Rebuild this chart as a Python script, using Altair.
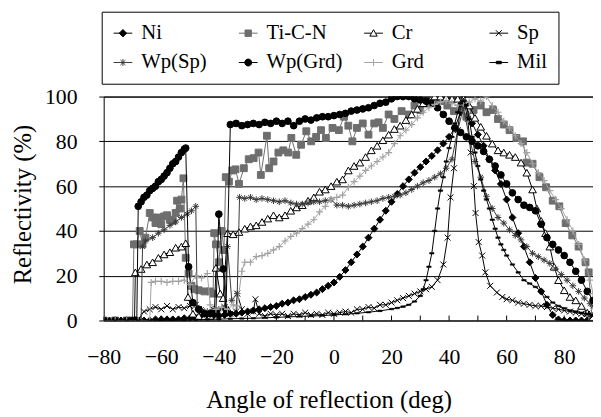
import altair as alt
import pandas as pd

series_names = ["Ni", "Ti-C-N", "Cr", "Sp", "Wp(Sp)", "Wp(Grd)", "Grd", "Mil"]

ni_x = [-80, -78, -76, -74, -72, -70, -68, -66, -64, -62,
        -60, -58, -56, -54, -52, -50, -48, -46, -44, -42,
        -40, -38, -36, -34, -32, -30, -28, -26, -24, -22,
        -20, -18, -16, -14, -12, -10, -8, -6, -4, -2,
        0, 2, 4, 6, 8, 10, 12, 14, 16, 18,
        20, 22, 24, 26, 28, 30, 32, 34, 36, 38,
        40, 42, 44, 46, 48, 50, 52, 54, 56, 58,
        60, 62, 64, 66, 68, 70, 72, 74, 76, 78,
        80, 82, 84, 86, 88, 90]
ni_y = [0, 0, 0, 0, 0, 0, 0, 0, 0, 0.5,
        0.5, 0.5, 0.5, 0.5, 1, 1, 1, 1.5, 1.5, 2,
        2, 2.5, 3, 3, 3.5, 4, 4.5, 5, 5.5, 6,
        6.5, 7.5, 8, 9, 9.5, 10.5, 11.5, 12.5, 14, 15.5,
        17, 19.5, 22.5, 26, 29.5, 33, 37, 41, 45, 49,
        53, 56.5, 60, 63, 66, 68.5, 71, 73.5, 76, 79,
        82, 86, 93, 96, 88, 83, 78, 72, 67, 61,
        54, 46, 39, 33, 26, 19, 13, 7, 2.5, 0.5,
        0, 0, 0, 0, 0, 0]

tin_x = [-80, -76, -72, -70, -69.5, -68.5, -67.5, -66.5, -65.5, -64,
         -63, -62, -61, -60, -59, -58, -57, -56, -55, -54.5,
         -53.5, -53, -52.3, -51.5, -50.5, -49.5, -48.5, -47, -45, -43,
         -42, -41.6, -41, -40, -39, -38.2, -37.6, -36.5, -35.3, -34.2,
         -33, -31.3, -29.6, -27.9, -26.2, -25.4, -23.3, -22.5, -21, -19.3,
         -17.6, -15.9, -14.8, -13.1, -11.4, -9.6, -7.9, -6.2, -4.5, -2.8,
         -0.5, 1.7, 3.5, 5, 6.4, 8, 10, 12, 14, 15.5,
         17, 19, 21, 23.5, 26, 28, 30, 32, 35, 37,
         39.4, 41.7, 44, 46, 48.5, 51, 53, 55.3, 57, 59,
         61, 63.4, 65.7, 66.9, 69, 71.4, 73.7, 76, 78.3, 80.5,
         82.8, 85, 87.4, 88.5, 89.6]
tin_y = [0, 0, 0, 0, 34, 34, 40, 34, 37, 48,
         46, 43.5, 46, 43, 46.5, 47, 45, 44.5, 48, 53.5,
         50, 54, 63.5, 28, 21, 15.5, 14, 13.5, 13, 13,
         12, 39, 34, 26, 40, 31.5, 64, 62, 67, 67.5,
         61, 68, 72, 72.5, 75, 65, 82.5, 68, 71, 75,
         76, 75, 81.5, 74, 78.5, 84.5, 80, 82, 85, 81.5,
         86, 85, 91, 87, 80, 86, 88, 83, 88, 88.5,
         86, 92, 90, 93.5, 92, 96, 94, 97, 99, 98,
         96, 93.5, 95, 91, 94, 96, 93, 94, 90, 87.5,
         85, 81.5, 80, 70.5, 70, 64, 59.5, 53.5, 51, 43.5,
         38, 33, 26, 21.5, 2]

cr_x = [-80, -76, -72, -70, -69.3, -69, -67, -65, -63, -61,
        -59, -57, -55, -53, -51.5, -50.7, -49, -47, -45, -43,
        -41.5, -41, -39.5, -38.5, -37, -35, -33, -31, -29, -27,
        -25, -23, -21, -19, -17, -15, -13, -11, -9, -7,
        -5, -3, -1, 1, 3, 5, 7, 9, 11, 13,
        15, 17, 19, 21, 23, 25, 27, 29, 31, 33,
        35, 37, 39, 41, 43, 45, 47, 49, 51, 53,
        55, 57, 59, 61, 63, 65, 67, 69, 70.5, 72,
        73.5, 75, 76.5, 78, 80, 82, 84, 86, 88, 90]
cr_y = [0, 0, 0, 0, 0, 21.5, 23, 25, 26, 28,
        29.5, 30.5, 32.5, 33, 34.5, 10.5, 3, 2, 1.5, 2,
        5, 23.5, 12, 10, 39, 38.5, 39.5, 41, 42, 42.5,
        44, 45.5, 47, 46, 47, 49, 50.5, 51.5, 53.5, 55,
        57.5, 58.5, 60, 62, 63, 67, 69, 70.5, 73, 76,
        78, 80.5, 83, 85.5, 87, 89.5, 92, 94.5, 97, 98,
        100, 100, 99.5, 99, 99, 99, 96, 90.5, 86.5, 82.5,
        79, 76, 75, 74, 73, 70.5, 66, 58.5, 50, 44.5,
        39, 33, 24, 18, 13.5, 10.5, 9, 6.5, 3.5, 1.5]

sp_x = [-80, -76, -72, -70, -68, -66, -64, -62, -60, -58,
        -56, -54, -52, -50, -48, -46, -44, -42, -40, -38,
        -36, -34, -33.6, -32, -30, -28, -27.3, -26, -24, -22,
        -20, -18, -16, -14, -12, -10, -8, -6, -4, -2,
        0, 2, 4, 6, 8, 10, 12, 14, 16, 18,
        20, 22, 24, 26, 28, 30, 32, 34, 36, 38,
        39.5, 40.5, 41.7, 43, 44, 45, 46.5, 47.5, 48.6, 49.2,
        50.3, 51.5, 52.6, 54.3, 56.6, 58.5, 60, 62, 64, 66,
        68, 70, 72, 74, 76, 78, 80, 82, 84, 86,
        88, 90]
sp_y = [0, 0, 0, 0, 0.5, 4, 5, 6, 5, 6.5,
        5, 6, 5.5, 6.5, 7, 4, 3, 5, 4, 6,
        3, 4, 12, 5, 3, 4, 9.5, 3, 2, 3,
        2.5, 3, 2, 3, 2.5, 3.5, 2.5, 3, 2.5, 3.5,
        3, 3.5, 4, 3.5, 5, 5, 6, 5.5, 7, 7,
        8, 9, 10, 11, 12, 13, 14, 15, 18, 25,
        37, 55, 68, 85, 96, 99, 90, 75, 60, 48,
        35, 29, 21.5, 15.5, 12.5, 10.5, 9.5, 9, 8, 7.5,
        7, 6.5, 6.5, 6, 5.5, 5, 4.5, 4, 3.5, 3,
        3, 2]

wps_x = [-80, -76, -72, -68, -67, -66.5, -65.5, -63, -61, -59,
         -57, -55, -53, -51, -49.5, -48, -47.5, -46, -44, -42,
         -40, -38, -37, -35.5, -33.6, -32.8, -31, -29, -27, -25,
         -23, -21, -19, -17, -15, -13, -11, -9, -7, -5,
         -3, -1, 1, 3, 5, 7, 9, 11, 13, 15,
         17, 19, 21, 23, 25, 27, 29, 31, 33, 35,
         37, 39, 41, 43, 45, 47, 49, 51, 53, 55,
         57, 59, 61, 63, 65, 67, 69, 71, 73, 75,
         77, 79, 81, 83, 85, 87, 89, 90]
wps_y = [0, 0, 0, 0, 0, 33, 35.5, 37, 39, 40.5,
         42.5, 44, 46, 47.5, 49, 51, 6, 5, 4, 5,
         5, 6, 33, 9, 12, 55, 54.5, 55, 54, 54.5,
         54, 53.5, 53, 53.5, 52.5, 52, 52, 52.5, 53, 53,
         53.5, 54, 51.5, 51.5, 51, 51.5, 52, 52.5, 53, 53.5,
         54.5, 55, 55.5, 56, 57, 58.5, 60, 61.5, 62.5, 64,
         65.5, 68, 72, 85, 95, 82, 71, 64, 55.5, 50,
         46, 43.5, 40.5, 38, 36, 33, 30, 28.5, 27, 25.5,
         23, 20.5, 18, 15.5, 13, 10, 7.5, 6.5]

wpg_x = [-80, -76, -72, -70, -68.5, -68, -67, -66, -65, -64,
         -63, -62, -61, -60, -59, -58, -57, -56, -55, -54,
         -53, -52, -51.5, -50.5, -49, -47, -45, -43, -41, -40,
         -38.5, -37.5, -36, -34, -32, -30, -28, -26, -24, -22,
         -20, -18, -16, -14, -12, -10, -8, -6, -4, -2,
         0, 2, 4, 6, 8, 10, 12, 14, 16, 18,
         20, 22, 24, 26, 28, 30, 32, 34, 36, 38,
         40, 42, 44, 46, 48, 50, 52, 54, 56, 58,
         60, 62, 64, 66, 68, 70, 72, 74, 76, 78,
         80, 82, 84, 86, 88, 90]
wpg_y = [0, 0, 0, 0, 0, 51, 53, 55, 56, 58,
         59, 60, 62, 63, 64.5, 66, 68, 70, 71, 73,
         75, 76.5, 77, 24, 8, 5, 3, 3, 4, 47.5,
         23, 5, 87.5, 88, 87, 87.5, 88, 87.5, 88.5, 88,
         89, 88, 89, 87, 89, 90, 89.5, 90.5, 91, 91,
         91.5, 92, 92.5, 93.5, 94, 94.5, 95, 96, 97, 97.5,
         99, 100, 100, 100, 99, 98.5, 98, 97, 95, 92,
         89, 86, 84, 82, 80, 78, 75.5, 72, 69, 65,
         61, 57, 54, 51.5, 50.5, 49, 43, 37, 34, 31.5,
         29, 26, 22, 18, 13, 9]

grd_x = [-80, -76, -72, -68, -64, -63.5, -62, -60, -58, -56,
         -54, -52, -50, -48, -46, -44, -43, -41, -39, -37,
         -35, -33.6, -32, -31, -29, -27, -25, -23, -21, -19,
         -17, -15, -13, -11, -9, -7, -5, -3, -1, 1,
         3, 5, 7, 9, 11, 13, 15, 17, 19, 21,
         23, 25, 27, 29, 31, 33, 35, 37, 39, 41,
         43, 45, 47, 49, 51, 53, 55, 57, 59, 61,
         63, 65, 67, 69, 71, 73, 75, 77, 79, 81,
         83, 85, 87, 89, 90]
grd_y = [0, 0, 0, 0, 0, 17, 17.5, 17.5, 17, 17.5,
         17.5, 18, 16, 20, 19, 21, 7, 5, 6, 5,
         7, 6.5, 22, 26, 26, 28.5, 29, 30, 31.5, 33,
         35.5, 37.5, 39, 41, 43, 45, 48.5, 51, 54, 55,
         56, 59.5, 62, 64.5, 67, 69, 71, 73, 75, 79,
         82.5, 85, 87.5, 90.5, 93, 95, 96.5, 97.5, 98, 97,
         96, 97, 97.5, 99, 98, 100, 96, 93, 89, 86,
         82.5, 79, 75, 70, 66, 62.5, 58, 54, 50, 45,
         40, 34, 27, 18, 12]

mil_x = [-80, -76, -72, -68, -64, -60, -56, -52, -48, -44,
         -40, -36, -32, -28, -24, -20, -16, -12, -8, -4,
         0, 4, 8, 12, 16, 20, 22, 24, 26, 28,
         30, 31, 32, 33, 34, 35, 36, 37, 38, 39,
         40, 41, 42, 43, 44, 45, 46, 47, 48, 49,
         50, 51, 52, 53, 54, 55, 56, 57, 58, 59,
         60, 62, 64, 66, 68, 70, 72, 74, 76, 78,
         80, 82, 84, 86, 88, 90]
mil_y = [0, 0, 0, 0, 0, 0, 0, 0, 0.3, 0.5,
         0.6, 0.8, 0.9, 1, 1.2, 1.4, 1.6, 1.8, 2, 2.2,
         2.5, 2.8, 3.2, 3.7, 4.3, 5.1, 5.6, 6.2, 7, 8.5,
         11, 14, 18, 24, 30, 40, 50, 58, 64, 71,
         77, 82, 88, 93, 97, 98, 96, 90, 82, 75,
         69, 63, 58, 54, 50, 45, 41, 37, 34, 31.5,
         29, 25, 21.5, 18, 16.5, 15, 13, 10.5, 8, 6.5,
         5.5, 4.5, 4, 3.5, 3, 2.5]

x_label_values = [-80, -60, -40, -20, 0, 20, 40, 60, 80]
x_minor_ticks = [-70, -60, -50, -40, -30, -20, -10, 0, 10, 20, 30, 40, 50, 60, 70, 80]
y_label_values = [0, 20, 40, 60, 80, 100]

series_data = {
    "Ni": (ni_x, ni_y),
    "Ti-C-N": (tin_x, tin_y),
    "Cr": (cr_x, cr_y),
    "Sp": (sp_x, sp_y),
    "Wp(Sp)": (wps_x, wps_y),
    "Wp(Grd)": (wpg_x, wpg_y),
    "Grd": (grd_x, grd_y),
    "Mil": (mil_x, mil_y),
}

rows = []
for name in series_names:
    xs, ys = series_data[name]
    for i, (a, r) in enumerate(zip(xs, ys)):
        rows.append({"series": name, "angle": a, "refl": r, "idx": i})
df = pd.DataFrame(rows)

FONT = "'Times New Roman', 'Liberation Serif', 'DejaVu Serif', serif"
BLACK = "#000000"
GRAY = "#6e6e6e"
DARK = "#3a3a3a"
LIGHT = "#a2a2a2"

X_PATH = "M-1,-1L1,1M-1,1L1,-1"
PLUS_PATH = "M-1,0H1M0,-1V1"
AST_PATH = "M-1,0H1M0,-1V1M-0.7,-0.7L0.7,0.7M-0.7,0.7L0.7,-0.7"
DASH_PATH = "M-1,-0.35H1V0.35H-1Z"

styles = {
    "Ni": dict(line=BLACK, shape="diamond", size=50, fill=BLACK, stroke=BLACK, sw=1),
    "Ti-C-N": dict(line=GRAY, shape="square", size=48, fill=GRAY, stroke=GRAY, sw=1),
    "Cr": dict(line=BLACK, shape="triangle-up", size=60, fill="white", stroke=BLACK, sw=1),
    "Sp": dict(line=BLACK, shape=X_PATH, size=36, fill=None, stroke=BLACK, sw=1),
    "Wp(Sp)": dict(line=DARK, shape=AST_PATH, size=45, fill=None, stroke=DARK, sw=1),
    "Wp(Grd)": dict(line=BLACK, shape="circle", size=46, fill=BLACK, stroke=BLACK, sw=1),
    "Grd": dict(line=LIGHT, shape=PLUS_PATH, size=50, fill=None, stroke=LIGHT, sw=1.2),
    "Mil": dict(line=BLACK, shape=DASH_PATH, size=20, fill=BLACK, stroke=BLACK, sw=0.5),
}

LINE = "M-1.9,0H1.9"
legend_paths = [
    LINE + "M0,-0.75L0.75,0L0,0.75L-0.75,0Z",
    LINE + "M-0.65,-0.65H0.65V0.65H-0.65Z",
    "M-1.9,0H-0.45M0.45,0H1.9M0,-0.7L0.75,0.6H-0.75Z",
    LINE + "M-0.6,-0.6L0.6,0.6M-0.6,0.6L0.6,-0.6",
    LINE + "M0,-0.7V0.7M-0.5,-0.5L0.5,0.5M-0.5,0.5L0.5,-0.5",
    LINE + "M-0.7,0A0.7,0.7,0,1,1,0.7,0A0.7,0.7,0,1,1,-0.7,0Z",
    LINE + "M0,-0.7V0.7",
    LINE + "M-0.5,-0.25H0.5V0.25H-0.5Z",
]
legend_fill = [BLACK, GRAY, "white", BLACK, DARK, BLACK, LIGHT, BLACK]
legend_stroke = [BLACK, GRAY, BLACK, BLACK, DARK, BLACK, LIGHT, BLACK]

x_axis = alt.Axis(
    values=x_label_values, grid=False, ticks=False, domain=False,
    labelFont=FONT, labelFontSize=22, labelColor="black", labelPadding=27,
    labelFlush=False, labelOverlap=False,
    title="Angle of reflection (deg)", titleFont=FONT, titleFontSize=25,
    titleFontWeight="normal", titleColor="black", titleX=228, titleY=88,
    titleBaseline="alphabetic", titleAlign="center",
)
y_axis = alt.Axis(
    values=y_label_values, grid=True, gridColor="black", gridWidth=1,
    ticks=True, tickSize=5, tickColor="black", domain=False,
    labelFont=FONT, labelFontSize=22, labelColor="black", labelPadding=22,
    labelFlush=False, labelOverlap=False,
    title="Reflectivity (%)", titleFont=FONT, titleFontSize=25,
    titleFontWeight="normal", titleColor="black", titleAngle=270,
    titleX=-82, titleY=109, titleBaseline="middle", titleAlign="center",
)

X = alt.X("angle:Q", scale=alt.Scale(domain=[-80, 90], nice=False, zero=False), axis=x_axis)
Y = alt.Y("refl:Q", scale=alt.Scale(domain=[0, 100], nice=False, zero=True), axis=y_axis)

layers = []
tick_df = pd.DataFrame({"angle": x_minor_ticks})
layers.append(
    alt.Chart(tick_df).mark_rule(color="black", strokeWidth=1).encode(
        x=X, y=alt.value(227), y2=alt.value(222)
    )
)

base = alt.Chart(df)
for name in series_names:
    st = styles[name]
    sub = base.transform_filter(alt.datum.series == name)
    layers.append(
        sub.mark_line(color=st["line"], strokeWidth=1, clip=True).encode(x=X, y=Y)
    )
    pkw = dict(shape=st["shape"], size=st["size"], stroke=st["stroke"],
               strokeWidth=st["sw"], opacity=1, clip=True)
    if st["fill"] is not None:
        pkw["fill"] = st["fill"]
        pkw["filled"] = True
    else:
        pkw["filled"] = False
    layers.append(sub.mark_point(**pkw).encode(x=X, y=Y))

leg_def = alt.Legend(
    title=None, orient="none", legendX=-2, legendY=-86, columns=4,
    direction="horizontal", gridAlign="all",
    labelFont=FONT, labelFontSize=21, labelColor="black",
    symbolSize=100, symbolStrokeWidth=1, labelOffset=8,
    columnPadding=20, rowPadding=8, padding=11,
    strokeColor="black", fillColor="white", labelLimit=300,
)
legend_df = pd.DataFrame({"series": series_names})
layers.append(
    alt.Chart(legend_df).transform_filter("false").mark_point(
        filled=True, opacity=1, size=100
    ).encode(
        shape=alt.Shape("series:N", scale=alt.Scale(domain=series_names, range=legend_paths), legend=leg_def),
        fill=alt.Fill("series:N", scale=alt.Scale(domain=series_names, range=legend_fill), legend=leg_def),
        stroke=alt.Stroke("series:N", scale=alt.Scale(domain=series_names, range=legend_stroke), legend=leg_def),
    )
)

chart = alt.layer(*layers).properties(
    width=496, height=227,
    padding={"left": 97, "top": 87, "right": 0, "bottom": 92},
    autosize=alt.AutoSizeParams(type="none"),
    background="white",
).configure_view(stroke="black", strokeWidth=1)

chart.save("out.html", embed_options={"renderer": "svg", "actions": False})
